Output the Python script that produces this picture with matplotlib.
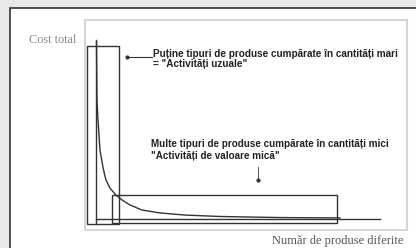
import numpy as np
import matplotlib.pyplot as plt
from matplotlib.patches import Rectangle

# Curba costului (citită din imagine): număr de produse vs. cost
produse = [0.18, 0.25, 0.35, 0.7, 1.06, 1.4, 2.5, 3.5, 4.9, 7.0, 9.2, 12.0,
           16.2, 22.5, 31.3, 43.7, 64.8, 85.9]
cost = [98.9, 83.2, 66.5, 55.3, 46.9, 38.5, 28.5, 21.8, 17.3, 13.4, 10.6, 7.8,
        5.0, 3.4, 2.2, 1.4, 0.8, 0.6]

# Dreptunghiuri: (x0, x1, y0, y1)
dreptunghi_mari = (-3.2, 8.1, -2.8, 96.6)
dreptunghi_mici = (5.6, 84.9, -2.2, 13.4)

eticheta_y = "Cost total"
eticheta_x = "Număr de produse diferite"
text_mari = "Puține tipuri de produse cumpărate în cantități mari\n= \"Activități uzuale\""
text_mici = "Multe tipuri de produse cumpărate în cantități mici\n\"Activități de valoare mică\""

W, H = 416, 248
fig = plt.figure(figsize=(W / 100, H / 100), dpi=100)
fig.patch.set_facecolor('#e9e9e9')

# fundal / ramă
bg = fig.add_axes([0, 0, 1, 1])
bg.set_xlim(0, W)
bg.set_ylim(H, 0)
bg.axis('off')
bg.add_patch(Rectangle((10, 8), W, H, facecolor='white', edgecolor='#333333', lw=1.2))
bg.add_patch(Rectangle((85, 20), 322, 210, facecolor='none', edgecolor='#d6d6d6', lw=1.5))
bg.text(53, 40, eticheta_y, fontsize=8.8, family='Liberation Serif', color='#8a8a8a',
        ha='center', va='center')
bg.text(403, 241, eticheta_x, fontsize=9, family='Liberation Serif', color='#555555',
        ha='right', va='center')

# graficul propriu-zis: origine la (96, 219) px, până la (380, 40) px
ax = fig.add_axes([96 / W, (H - 219) / H, 284 / W, 179 / H])
ax.set_xlim(0, 100)
ax.set_ylim(0, 100)
ax.patch.set_alpha(0)
for s in ['top', 'right']:
    ax.spines[s].set_visible(False)
ax.spines['left'].set_bounds(-2.8, 100)
ax.spines['bottom'].set_bounds(0, 100)
for s in ['left', 'bottom']:
    ax.spines[s].set_color('#333333')
    ax.spines[s].set_linewidth(1.0)
    ax.spines[s].set_clip_on(False)
ax.set_xticks([])
ax.set_yticks([])

ax.plot(produse, cost, color='#333333', lw=1.0, clip_on=False)

for x0, x1, y0, y1 in [dreptunghi_mari, dreptunghi_mici]:
    ax.add_patch(Rectangle((x0, y0), x1 - x0, y1 - y0, facecolor='none',
                           edgecolor='#333333', lw=1.0, clip_on=False))

# adnotări
ax.plot([10.9, 19.7], [90.5, 90.5], color='#333333', lw=0.8, clip_on=False)
ax.plot([10.9], [90.5], 'o', color='#333333', ms=2, clip_on=False)
ax.text(20.1, 89.5, text_mari, fontsize=7.2, fontweight='bold', family='Liberation Sans',
        color='#222222', va='center', ha='left', linespacing=1.0)

ax.plot([57.0, 57.0], [21.8, 29.1], color='#333333', lw=0.6, clip_on=False)
ax.plot([57.0], [21.8], 'o', color='#333333', ms=2, clip_on=False)
ax.text(19.4, 38.3, text_mici, fontsize=7.1, fontweight='bold', family='Liberation Sans',
        color='#222222', va='center', ha='left', linespacing=1.25)

fig.savefig('out.png', dpi=100)
